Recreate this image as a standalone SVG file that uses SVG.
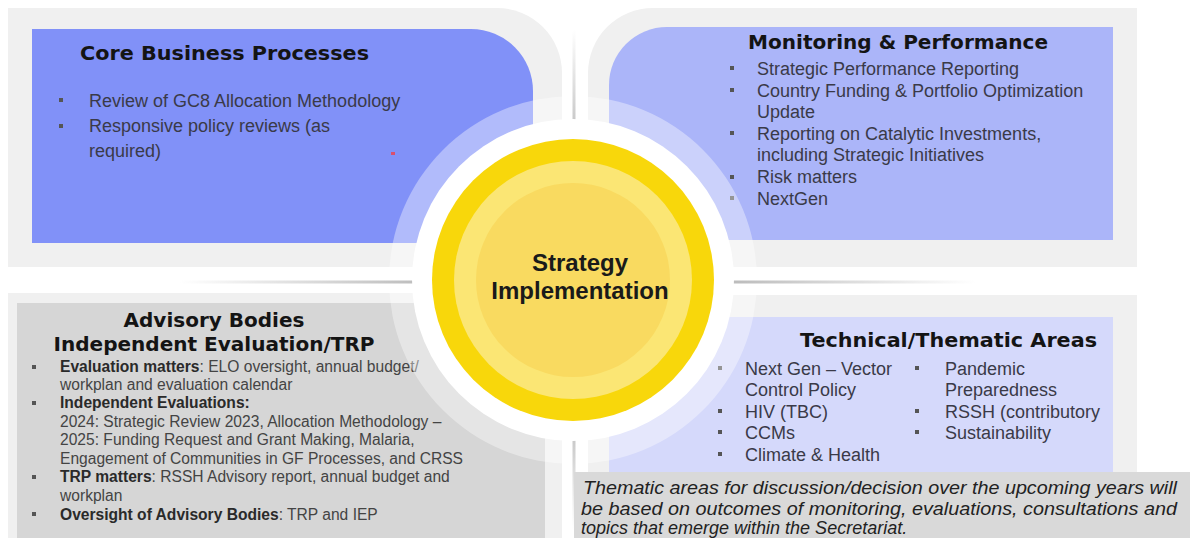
<svg xmlns="http://www.w3.org/2000/svg" width="1190" height="538" viewBox="0 0 1190 538">
  <defs>
    <style>
      .outer { fill: #f0f0f0; }
      .title { font-family: "DejaVu Sans", "Liberation Sans", sans-serif; font-weight: bold; font-size: 20px; fill: #141414; }
      .body { font-family: "Liberation Sans", Arial, sans-serif; font-size: 18px; fill: #3a3a48; }
      .small { font-family: "Liberation Sans", Arial, sans-serif; font-size: 15.6px; fill: #444; }
      .b { font-weight: bold; fill: #2a2a2a; }
      .bul { fill: #555; }
      .center { font-family: "Liberation Sans", Arial, sans-serif; font-weight: bold; font-size: 24px; fill: #1a1a1a; text-anchor: middle; }
      .cap { font-family: "Liberation Sans", Arial, sans-serif; font-size: 18px; font-style: italic; fill: #222; }
    </style>
    <linearGradient id="gh" x1="180" y1="0" x2="975" y2="0" gradientUnits="userSpaceOnUse">
      <stop offset="0" stop-color="#bdbdbd" stop-opacity="0"/>
      <stop offset="0.3" stop-color="#bdbdbd" stop-opacity="1"/>
      <stop offset="0.7" stop-color="#bdbdbd" stop-opacity="1"/>
      <stop offset="1" stop-color="#bdbdbd" stop-opacity="0"/>
    </linearGradient>
    <linearGradient id="gv" x1="0" y1="30" x2="0" y2="530" gradientUnits="userSpaceOnUse">
      <stop offset="0" stop-color="#c4c4c4" stop-opacity="0"/>
      <stop offset="0.2" stop-color="#c4c4c4" stop-opacity="1"/>
      <stop offset="0.8" stop-color="#c4c4c4" stop-opacity="1"/>
      <stop offset="1" stop-color="#c4c4c4" stop-opacity="0"/>
    </linearGradient>
  </defs>
  <rect x="0" y="0" width="1190" height="538" fill="#ffffff"/>

  <g id="node-core-business">
    <path class="outer" d="M8,8 H497 A65,65 0 0 1 562,73 V267 H8 Z"/>
    <path fill="#8191f8" d="M32,29 H471 A62,62 0 0 1 533,91 V243 H32 Z"/>
    <text class="title" x="80" y="60" textLength="289" lengthAdjust="spacingAndGlyphs">Core Business Processes</text>
    <rect class="bul" x="59" y="98" width="4" height="4"/>
    <text class="body" x="89" y="107">Review of GC8 Allocation Methodology</text>
    <rect class="bul" x="59" y="124" width="4" height="4"/>
    <text class="body" x="89" y="132">Responsive policy reviews (as</text>
    <text class="body" x="89" y="157">required)</text>
    <rect x="391" y="152" width="4" height="3" fill="#d9506e"/>
  </g>

  <g id="node-monitoring">
    <path class="outer" d="M653,8 H1137 V267 H588 V73 A65,65 0 0 1 653,8 Z"/>
    <path fill="#abb5f9" d="M667,27 H1113 V240 H609 V85 A58,58 0 0 1 667,27 Z"/>
    <text class="title" x="748" y="49" textLength="300" lengthAdjust="spacingAndGlyphs">Monitoring &amp; Performance</text>
    <rect class="bul" x="730" y="66" width="4" height="4"/>
    <text class="body" x="757" y="75">Strategic Performance Reporting</text>
    <rect class="bul" x="730" y="88" width="4" height="4"/>
    <text class="body" x="757" y="97">Country Funding &amp; Portfolio Optimization</text>
    <text class="body" x="757" y="118">Update</text>
    <rect class="bul" x="730" y="131" width="4" height="4"/>
    <text class="body" x="757" y="140">Reporting on Catalytic Investments,</text>
    <text class="body" x="757" y="161">including Strategic Initiatives</text>
    <rect class="bul" x="730" y="175" width="4" height="4"/>
    <text class="body" x="757" y="183">Risk matters</text>
    <rect class="bul" x="730" y="196" width="4" height="4"/>
    <text class="body" x="757" y="205">NextGen</text>
  </g>

  <g id="node-advisory">
    <rect class="outer" x="8" y="293" width="554" height="245"/>
    <rect fill="#d6d6d6" x="17" y="303" width="528" height="235"/>
    <text class="title" x="214" y="327" text-anchor="middle">Advisory Bodies</text>
    <text class="title" x="214" y="351" text-anchor="middle" textLength="321" lengthAdjust="spacingAndGlyphs">Independent Evaluation/TRP</text>
    <rect class="bul" x="32" y="365" width="4" height="4"/>
    <text class="small" x="60" y="372"><tspan class="b">Evaluation matters</tspan>: ELO oversight, annual budget/</text>
    <text class="small" x="60" y="390">workplan and  evaluation calendar</text>
    <rect class="bul" x="32" y="401" width="4" height="4"/>
    <text class="small b" x="60" y="408">Independent Evaluations:</text>
    <text class="small" x="60" y="427">2024: Strategic Review 2023, Allocation Methodology –</text>
    <text class="small" x="60" y="445">2025: Funding Request and Grant Making, Malaria,</text>
    <text class="small" x="60" y="464">Engagement of Communities in GF Processes, and CRSS</text>
    <rect class="bul" x="32" y="475" width="4" height="4"/>
    <text class="small" x="60" y="482"><tspan class="b">TRP matters</tspan>: RSSH Advisory report, annual budget and</text>
    <text class="small" x="60" y="501">workplan</text>
    <rect class="bul" x="32" y="512" width="4" height="4"/>
    <text class="small" x="60" y="520"><tspan class="b">Oversight of Advisory Bodies</tspan>: TRP and IEP</text>
  </g>

  <g id="node-technical">
    <rect class="outer" x="588" y="295" width="549" height="177"/>
    <rect fill="#d5d9fb" x="609" y="317" width="504" height="155"/>
    <text class="title" x="800" y="347" textLength="297" lengthAdjust="spacingAndGlyphs">Technical/Thematic Areas</text>
    <rect class="bul" x="718" y="366" width="4" height="4"/>
    <text class="body" x="745" y="374.5">Next Gen – Vector</text>
    <text class="body" x="745" y="396">Control Policy</text>
    <rect class="bul" x="718" y="409" width="4" height="4"/>
    <text class="body" x="745" y="417.5">HIV (TBC)</text>
    <rect class="bul" x="718" y="430" width="4" height="4"/>
    <text class="body" x="745" y="439">CCMs</text>
    <rect class="bul" x="718" y="452" width="4" height="4"/>
    <text class="body" x="745" y="460.5">Climate &amp; Health</text>
    <rect class="bul" x="915" y="366" width="4" height="4"/>
    <text class="body" x="945" y="374.5">Pandemic</text>
    <text class="body" x="945" y="396">Preparedness</text>
    <rect class="bul" x="915" y="409" width="4" height="4"/>
    <text class="body" x="945" y="417.5">RSSH (contributory</text>
    <rect class="bul" x="915" y="430" width="4" height="4"/>
    <text class="body" x="945" y="439">Sustainability</text>
  </g>

  <g id="ring">
    <circle cx="573" cy="280" r="184" fill="#ffffff" fill-opacity="0.38"/>
  </g>

  <g id="connectors">
    <line x1="180" y1="282" x2="975" y2="282" stroke="url(#gh)" stroke-width="3"/>
    <line x1="574" y1="30" x2="574" y2="530" stroke="url(#gv)" stroke-width="3"/>
  </g>

  <g id="node-strategy">
    <circle cx="573" cy="280" r="161" fill="#ffffff"/>
    <circle cx="573" cy="280" r="141" fill="#f8d70b"/>
    <circle cx="573" cy="280" r="119" fill="#fbe674"/>
    <circle cx="573" cy="280" r="97" fill="#f9da60"/>
    <text class="center" x="580" y="271">Strategy</text>
    <text class="center" x="580" y="299">Implementation</text>
  </g>

  <g id="note">
    <rect x="574" y="472" width="616" height="66" fill="#d9d9d9"/>
    <text class="cap" x="583" y="494" textLength="594" lengthAdjust="spacingAndGlyphs">Thematic areas for discussion/decision over the upcoming years will</text>
    <text class="cap" x="581" y="515" textLength="596" lengthAdjust="spacingAndGlyphs">be based on outcomes of monitoring, evaluations, consultations and</text>
    <text class="cap" x="581" y="534">topics that emerge within the Secretariat.</text>
  </g>
</svg>
